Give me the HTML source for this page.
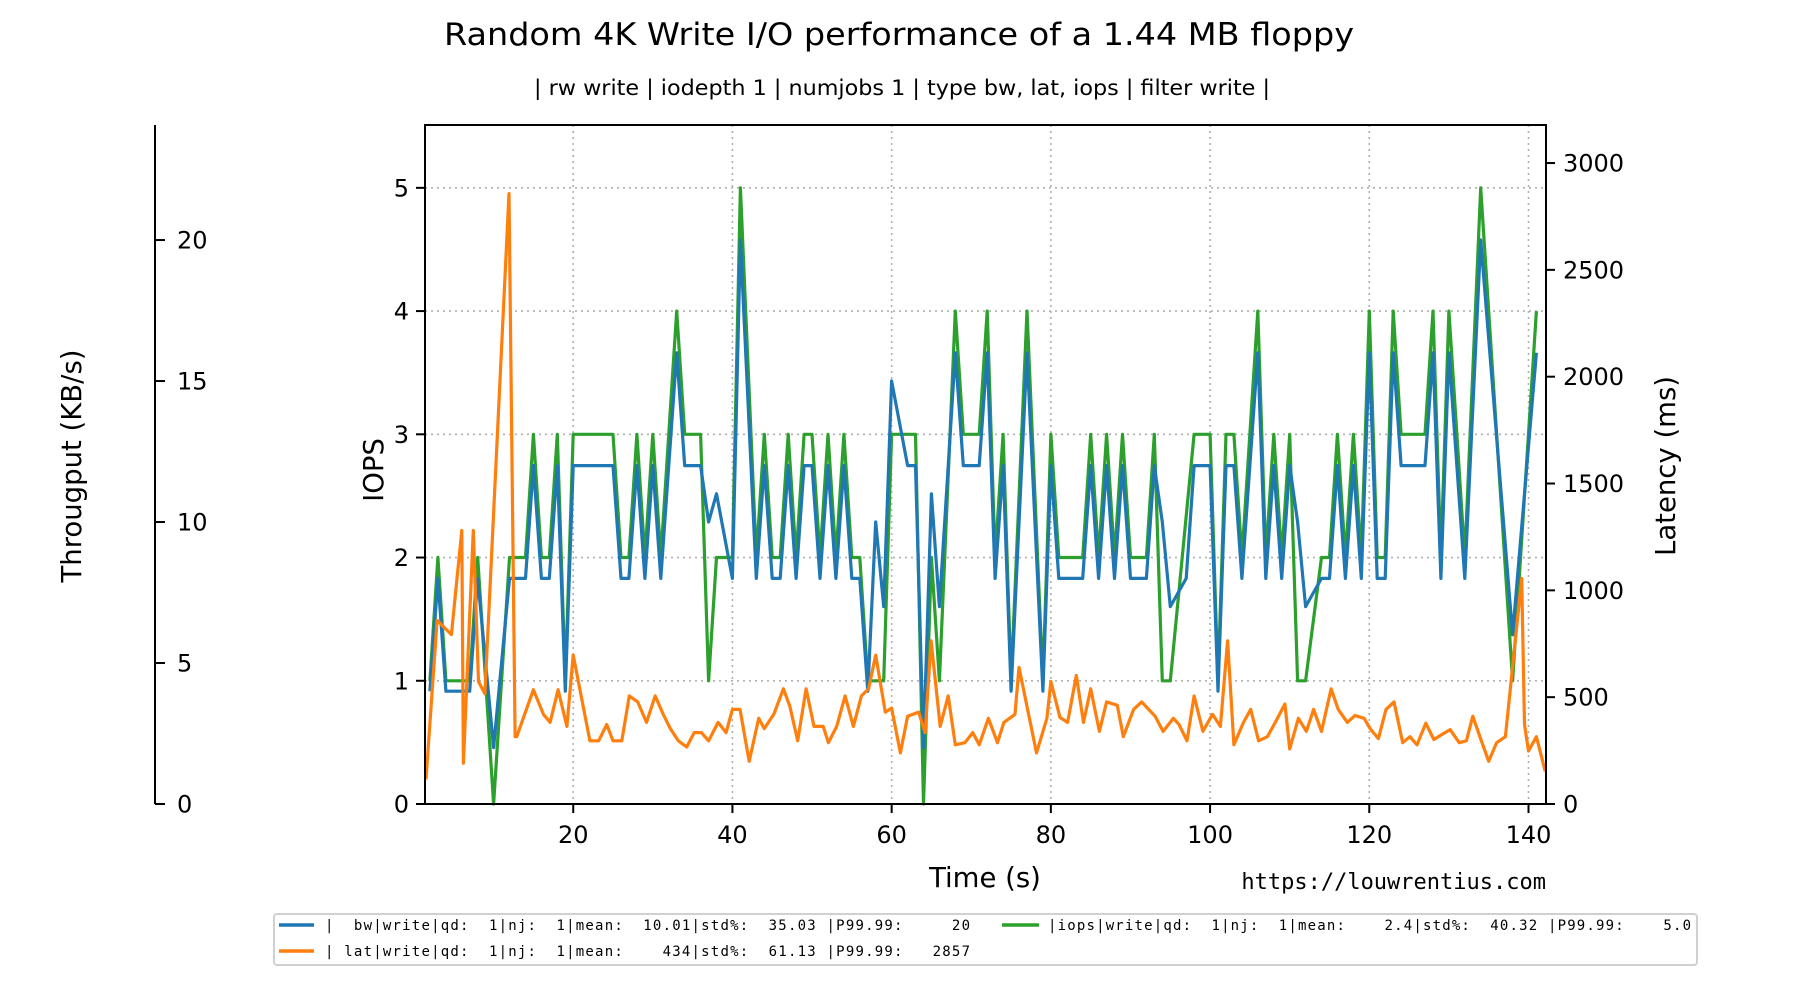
<!DOCTYPE html>
<html><head><meta charset="utf-8"><style>
html,body{margin:0;padding:0;background:#fff;}
svg text{font-family:"DejaVu Sans","Liberation Sans",sans-serif;fill:#000;}
.mono{font-family:"DejaVu Sans Mono","Liberation Mono",monospace;white-space:pre;}
</style></head><body>
<svg id="chart" width="1800" height="1000" viewBox="0 0 1800 1000" xmlns="http://www.w3.org/2000/svg">
<text x="899" y="45" font-size="31" text-anchor="middle" textLength="910" lengthAdjust="spacingAndGlyphs">Random 4K Write I/O performance of a 1.44 MB floppy</text>
<text x="902" y="95" font-size="21" text-anchor="middle" textLength="736" lengthAdjust="spacingAndGlyphs">| rw write | iodepth 1 | numjobs 1 | type bw, lat, iops | filter write |</text>
<g id="grid"></g>
<g id="series"></g>
<g id="axes"></g>
<text x="985" y="887" font-size="27.5" text-anchor="middle">Time (s)</text>
<text transform="translate(383,470) rotate(-90)" font-size="27.5" text-anchor="middle">IOPS</text>
<text transform="translate(1675,466) rotate(-90)" font-size="27.5" text-anchor="middle">Latency (ms)</text>
<text transform="translate(81,466) rotate(-90)" font-size="27.5" text-anchor="middle">Througput (KB/s)</text>
<text class="mono" x="1546" y="889" font-size="22" text-anchor="end">https://louwrentius.com</text>
<g>
<rect x="274" y="914" width="1423" height="51" rx="3" fill="#fff" stroke="#d0d0d0" stroke-width="2"/>
<g><line x1="279" y1="925" x2="314" y2="925" stroke="#1f77b4" stroke-width="3.5"/><text class="mono" x="325" y="930" font-size="14" textLength="645" xml:space="preserve">|  bw|write|qd:  1|nj:  1|mean:  10.01|std%:  35.03 |P99.99:     20</text></g>
<g><line x1="279" y1="951" x2="314" y2="951" stroke="#ff7f0e" stroke-width="3.5"/><text class="mono" x="325" y="956" font-size="14" textLength="645" xml:space="preserve">| lat|write|qd:  1|nj:  1|mean:    434|std%:  61.13 |P99.99:   2857</text></g>
<g><line x1="1002" y1="925" x2="1039" y2="925" stroke="#2ca02c" stroke-width="3.5"/><text class="mono" x="1048" y="930" font-size="14" textLength="643" xml:space="preserve">|iops|write|qd:  1|nj:  1|mean:    2.4|std%:  40.32 |P99.99:    5.0</text></g>
</g>
</svg>
<script>
const iopsT=[2,3,4,7,8,10,12,14,15,16,17,18,19,20,25,26,27,28,29,30,31,33,34,36,37,38,40,41,43,44,45,46,47,48,49,50,51,52,53,54,55,56,57,59,60,63,64,65,66,68,69,71,72,73,74,75,77,79,80,81,84,85,86,87,88,89,90,92,93,94,95,98,100,101,102,103,104,106,107,108,109,110,111,112,114,115,116,117,118,119,120,121,122,123,124,127,128,129,130,132,134,138,141];
const iopsV=[1,2,1,1,2,0,2,2,3,2,2,3,1,3,3,2,2,3,2,3,2,4,3,3,1,2,2,5,2,3,2,2,3,2,3,3,2,3,2,3,2,2,1,1,3,3,0,2,1,4,3,3,4,2,3,1,4,1,3,2,2,3,2,3,2,3,2,2,3,1,1,3,3,1,3,3,2,4,2,3,2,3,1,1,2,2,3,2,3,2,4,2,2,4,3,3,4,2,4,2,5,1,4];
const bwT=[2,3,4,7,8,10,12,14,15,16,17,18,19,20,25,26,27,28,29,30,31,33,34,36,37,38,40,41,43,44,45,46,47,48,49,50,51,52,53,54,55,56,57,58,59,60,62,63,64,65,66,68,69,71,72,73,74,75,77,79,80,81,84,85,86,87,88,89,90,92,93,94,95,97,98,100,101,102,103,104,106,107,108,109,110,111,112,114,115,116,117,118,119,120,121,122,123,124,127,128,129,130,132,134,138,141];
const bwV=[4,8,4,4,8,2,8,8,12,8,8,12,4,12,12,8,8,12,8,12,8,16,12,12,10,11,8,20,8,12,8,8,12,8,12,12,8,12,8,12,8,8,4,10,7,15,12,12,2,11,7,16,12,12,16,8,12,4,16,4,12,8,8,12,8,12,8,12,8,8,12,10,7,8,12,12,4,12,12,8,16,8,12,8,12,10,7,8,8,12,8,12,8,16,8,8,16,12,12,16,8,16,8,20,6,16];
const latT=[1.5,2.9,4.7,6.0,6.2,7.45,8.1,8.9,11.93,12.7,12.9,15,16.25,17.1,18.1,19.2,20,22.1,23.2,24.2,25,26.1,27.05,28.1,29.2,30.3,31.3,32.2,33.2,34.25,35.2,36.1,37,38.2,39.2,40,40.95,42.1,43.3,44,45.2,46.4,47.2,48.2,49.25,50.25,51.4,52.05,53.1,54.15,55.2,56.2,57.1,58,59.2,60,61.1,62,63.4,64.2,64.95,66.1,67.1,68,69.2,70.2,71,72.15,73.3,74.1,75.5,76,78.2,79.5,80,81.15,82.1,83.2,84.1,85,86.1,87,88.35,89.1,90.4,91.4,93.1,94.1,95.4,96.1,97.1,98,99.1,100.3,101.3,102.2,103,104.2,105.1,106.1,107.2,108.2,109.4,110,111.1,112.1,113,114,115.2,116.1,117.25,118.2,119.35,120.1,121.15,122.1,123.1,124.2,125.1,126,127.1,128.1,129.1,130.15,131.3,132.2,133,133.9,135,136,137.1,139.15,139.5,140,141,142.1];
const latV=[115,860,793,1280,191,1280,573,516,2857,315,315,535,420,382,535,363,697,296,296,372,296,296,506,478,382,506,420,353,296,267,334,334,296,382,334,443,443,200,401,353,420,539,458,296,539,363,363,287,363,506,363,506,539,697,430,449,239,411,430,334,764,363,506,277,287,334,277,401,287,382,420,640,239,401,573,405,382,602,382,539,340,478,462,315,443,478,411,340,401,372,296,506,340,420,363,764,277,382,443,296,315,382,468,258,401,340,443,340,539,443,382,414,401,353,306,443,478,287,315,277,378,302,325,348,287,296,411,315,200,287,315,1056,372,248,315,153];
const xTicks=[20,40,60,80,100,120,140];
const iopsTicks=[0,1,2,3,4,5];
const latTicks=[0,500,1000,1500,2000,2500,3000];
const bwTicks=[0,5,10,15,20];

const L=425,R=1546,T=125,B=804;
const X0=1.38,X1=142.2;
const sx=t=>L+(t-X0)/(X1-X0)*(R-L);
const syI=v=>B-v/5.51*(B-T);
const syL=v=>B-v/3178*(B-T);
const syB=v=>B-v/24.08*(B-T);
const NS='http://www.w3.org/2000/svg';
function mk(tag,attrs,parent){const e=document.createElementNS(NS,tag);for(const k in attrs)e.setAttribute(k,attrs[k]);parent.appendChild(e);return e;}
const grid=document.getElementById('grid'),ser=document.getElementById('series'),ax=document.getElementById('axes');
xTicks.forEach(t=>{const g=mk('line',{x1:sx(t),x2:sx(t),y1:T,y2:B,stroke:'#b0b0b0','stroke-width':1.6,'stroke-dasharray':'2,4'},grid);

});
iopsTicks.slice(1).forEach(v=>{const g=mk('line',{x1:L,x2:R,y1:syI(v),y2:syI(v),stroke:'#b0b0b0','stroke-width':1.6,'stroke-dasharray':'2,4'},grid);

});
function line(ts,vs,fy,color,name){const pts=ts.map((t,i)=>sx(t).toFixed(1)+','+fy(vs[i]).toFixed(1)).join(' ');
const p=mk('polyline',{points:pts,fill:'none',stroke:color,'stroke-width':3.2,'stroke-linejoin':'round'},ser);

}
line(iopsT,iopsV,syI,'#2ca02c','iops-line');
line(bwT,bwV,syB,'#1f77b4','bw-line');
line(latT,latV,syL,'#ff7f0e','latency-line');
mk('rect',{x:L,y:T,width:R-L,height:B-T,fill:'none',stroke:'#000','stroke-width':2},ax);
xTicks.forEach(t=>{mk('line',{x1:sx(t),x2:sx(t),y1:B,y2:B+9,stroke:'#000','stroke-width':2},ax);
const tx=mk('text',{x:sx(t),y:B+39,'font-size':24,'text-anchor':'middle'},ax);tx.textContent=t;

});
iopsTicks.forEach(v=>{mk('line',{x1:L-9,x2:L,y1:syI(v),y2:syI(v),stroke:'#000','stroke-width':2},ax);
const tx=mk('text',{x:L-16,y:syI(v)+8.5,'font-size':24,'text-anchor':'end'},ax);tx.textContent=v;

});
latTicks.forEach(v=>{mk('line',{x1:R,x2:R+9,y1:syL(v),y2:syL(v),stroke:'#000','stroke-width':2},ax);
const tx=mk('text',{x:R+17,y:syL(v)+8.5,'font-size':24},ax);tx.textContent=v;

});
mk('line',{x1:155,x2:155,y1:T,y2:B,stroke:'#000','stroke-width':2},ax);
bwTicks.forEach(v=>{mk('line',{x1:155,x2:165,y1:syB(v),y2:syB(v),stroke:'#000','stroke-width':2},ax);
const tx=mk('text',{x:177,y:syB(v)+8.5,'font-size':24},ax);tx.textContent=v;

});
</script>
</body></html>
